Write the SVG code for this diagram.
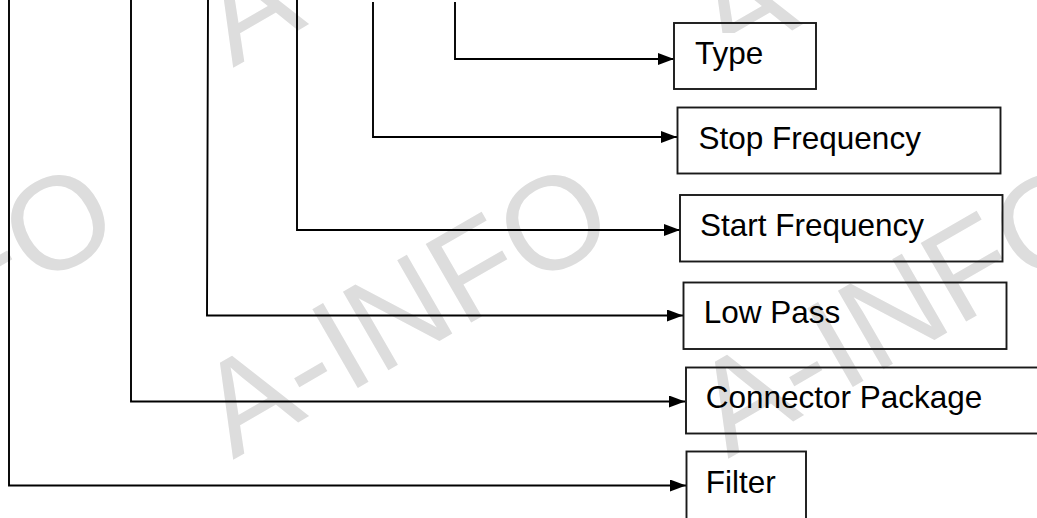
<svg xmlns="http://www.w3.org/2000/svg" width="1037" height="518" viewBox="0 0 1037 518">
  <style>
    .wm { font-family: "Liberation Sans", Arial, sans-serif; font-size: 132px; fill: #dddddd; }
    .box { fill: none; stroke: #1a1a1a; stroke-width: 1.9; }
    .lbl { font-family: "Liberation Sans", Arial, sans-serif; font-size: 31.5px; fill: #000000; }
    .ln { fill: none; stroke: #000000; stroke-width: 1.9; }
  </style>
  <defs>
    <marker id="arr" viewBox="0 0 16 12" refX="16" refY="6" markerWidth="16" markerHeight="12" markerUnits="userSpaceOnUse" orient="auto">
      <path d="M0,0 L16,6 L0,12 Z" fill="#000000"/>
    </marker>
  </defs>
  <rect width="1037" height="518" fill="#ffffff"/>

  <g id="watermark">
    <text class="wm" transform="translate(233,68) rotate(-30)">A-INFO</text>
    <text class="wm" transform="translate(727,68) rotate(-30)">A-INFO</text>
    <text class="wm" transform="translate(-262,460) rotate(-30)">A-INFO</text>
    <text class="wm" transform="translate(233,460) rotate(-30)">A-INFO</text>
    <text class="wm" transform="translate(728,459) rotate(-30)">A-INFO</text>
  </g>

  <g id="connectors">
    <path class="ln" d="M9,0 V485.5 H686" marker-end="url(#arr)"/>
    <path class="ln" d="M131,0 V401.5 H685" marker-end="url(#arr)"/>
    <path class="ln" d="M208,0 L207,315.5 H683" marker-end="url(#arr)"/>
    <path class="ln" d="M297,0 V230 H680" marker-end="url(#arr)"/>
    <path class="ln" d="M373,2 V137 H677" marker-end="url(#arr)"/>
    <path class="ln" d="M455,2 V59 H674" marker-end="url(#arr)"/>
  </g>

  <g id="node-type">
    <rect x="676" y="33" width="138" height="55" fill="#ffffff"/>
    <rect class="box" x="674" y="23" width="142" height="66"/>
    <text class="lbl" x="695" y="63.5">Type</text>
  </g>
  <g id="node-stop-frequency">
    <rect class="box" x="677.5" y="107.5" width="323" height="66"/>
    <text class="lbl" x="698.5" y="148.5">Stop Frequency</text>
  </g>
  <g id="node-start-frequency">
    <rect class="box" x="680" y="195" width="322.5" height="66.5"/>
    <text class="lbl" x="700" y="235.5">Start Frequency</text>
  </g>
  <g id="node-low-pass">
    <rect class="box" x="683.5" y="282.5" width="323" height="66.5"/>
    <text class="lbl" x="703.7" y="322.7">Low Pass</text>
  </g>
  <g id="node-connector-package">
    <rect class="box" x="686" y="367.5" width="360" height="66"/>
    <text class="lbl" x="705.7" y="408">Connector Package</text>
  </g>
  <g id="node-filter">
    <rect class="box" x="686.5" y="451.5" width="119.5" height="80"/>
    <text class="lbl" x="705.8" y="493">Filter</text>
  </g>
</svg>
